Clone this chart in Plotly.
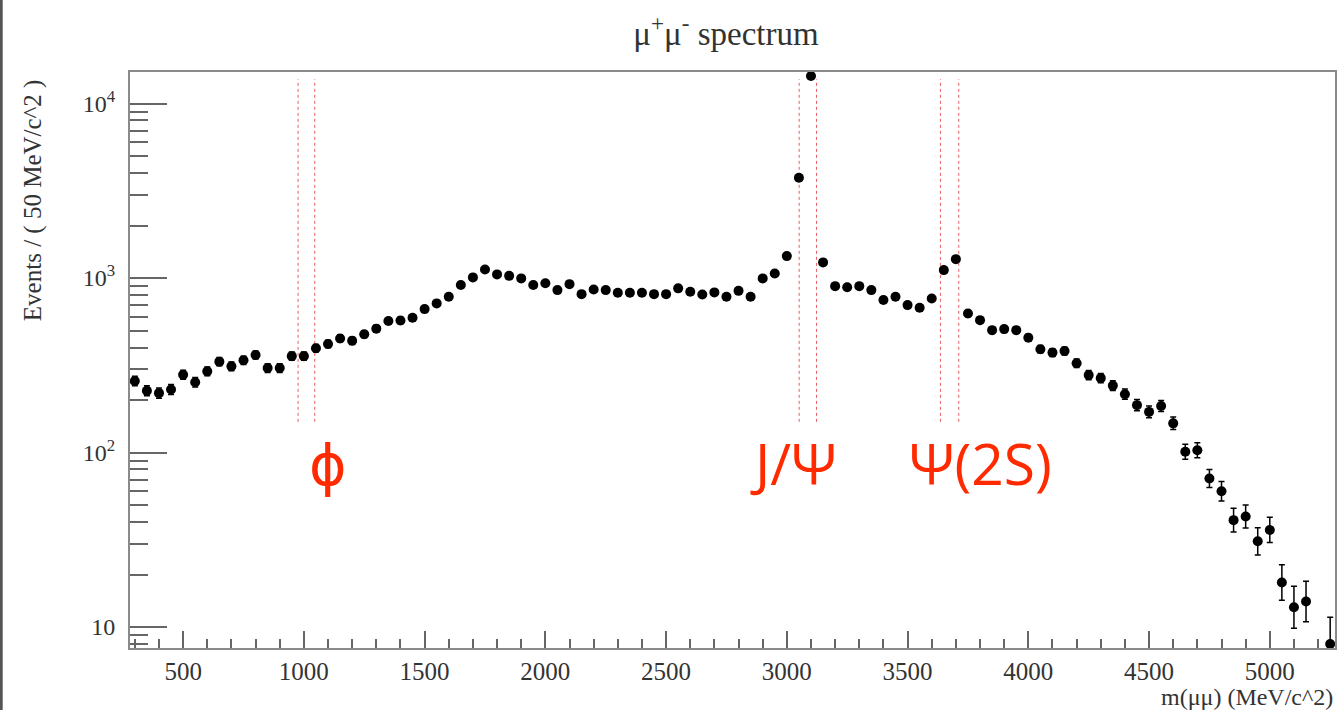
import math
import plotly.graph_objects as go

# ---- data (bin centres in MeV/c^2, 50 MeV bins) ----
mass = [300, 350, 400, 450, 500, 550, 600, 650, 700, 750,
        800, 850, 900, 950, 1000, 1050, 1100, 1150, 1200, 1250,
        1300, 1350, 1400, 1450, 1500, 1550, 1600, 1650, 1700, 1750,
        1800, 1850, 1900, 1950, 2000, 2050, 2100, 2150, 2200, 2250,
        2300, 2350, 2400, 2450, 2500, 2550, 2600, 2650, 2700, 2750,
        2800, 2850, 2900, 2950, 3000, 3050, 3100, 3150, 3200, 3250,
        3300, 3350, 3400, 3450, 3500, 3550, 3600, 3650, 3700, 3750,
        3800, 3850, 3900, 3950, 4000, 4050, 4100, 4150, 4200, 4250,
        4300, 4350, 4400, 4450, 4500, 4550, 4600, 4650, 4700, 4750,
        4800, 4850, 4900, 4950, 5000, 5050, 5100, 5150, 5200, 5250]

events = [257, 226, 219, 230, 279, 253, 292, 332, 312, 338,
          362, 305, 305, 357, 357, 396, 419, 451, 437, 476,
          513, 567, 571, 592, 664, 716, 781, 912, 1009, 1121,
          1050, 1030, 996, 912, 933, 853, 923, 809, 861, 853,
          824, 824, 824, 809, 809, 873, 835, 806, 828, 781,
          845, 781, 996, 1063, 1336, 3760, 14380, 1230, 899, 885,
          899, 853, 748, 781, 700, 676, 764, 1111, 1284, 627,
          574, 503, 510, 503, 455, 391, 374, 382, 325, 278,
          267, 242, 216, 187, 171, 185, 147, 101, 103, 71,
          60, 41, 43, 31, 36, 18, 13, 14, None, 8]

# resonance windows (MeV/c^2)
window_lo = [976, 3051, 3636]
window_hi = [1045, 3123, 3712]
window_ymin = 150
window_ymax = 13800

res_labels = ["ϕ", "J/Ψ", "Ψ(2S)"]
res_label_x = [1099, 3029, 3802]

x_ticks = [500, 1000, 1500, 2000, 2500, 3000, 3500, 4000, 4500, 5000]
y_ticks = [10, 100, 1000, 10000]
y_ticktext = ["10", "10<sup>2</sup>", "10<sup>3</sup>", "10<sup>4</sup>"]

# Poisson-like asymmetric errors
err_up = [None if n is None else math.sqrt(n + 0.25) + 0.5 for n in events]
err_dn = [None if n is None else math.sqrt(n + 0.25) - 0.5 for n in events]

SERIF = "Liberation Serif, Times New Roman, serif"
RED = "#ff2a00"
FRAME = "#8a8a8a"

fig = go.Figure()

# dotted window lines
for lo, hi in zip(window_lo, window_hi):
    for xv in (lo, hi):
        fig.add_trace(go.Scatter(
            x=[xv, xv], y=[window_ymin, window_ymax], mode="lines",
            line=dict(color="#e06060", width=1, dash="dot"),
            hoverinfo="skip", showlegend=False))

fig.add_trace(go.Scatter(
    x=mass, y=events, mode="markers",
    marker=dict(color="black", size=10, symbol="circle"),
    error_y=dict(type="data", symmetric=False, array=err_up, arrayminus=err_dn,
                 color="black", thickness=1.5, width=3),
    showlegend=False))

minor_y = []
for k in range(0, 5):
    for m in range(2, 10):
        minor_y.append(m * 10 ** k)

fig.update_layout(
    width=1339, height=710,
    margin=dict(l=130, r=2, t=72, b=62),
    paper_bgcolor="white", plot_bgcolor="white",
    showlegend=False,
    font=dict(family=SERIF, color="#333333"),
    title=dict(text="μ<sup>+</sup>μ<sup>-</sup> spectrum",
               x=(727 - 130) / 1207, xref="paper", xanchor="center",
               y=1 - 33 / 710, yref="container", yanchor="middle",
               font=dict(family=SERIF, size=33, color="#333333")),
    xaxis=dict(
        range=[280, 5270], showgrid=False, zeroline=False,
        showline=True, linecolor=FRAME, linewidth=2, mirror=True,
        tickvals=x_ticks, ticks="inside", ticklen=17, tickwidth=1.5,
        tickcolor="#666666",
        tickfont=dict(family=SERIF, size=25, color="#333333"),
        minor=dict(dtick=100, tick0=0, ticks="inside", ticklen=9,
                   tickwidth=1.5, tickcolor="#666666", showgrid=False),
    ),
    yaxis=dict(
        type="log", range=[0.880, 4.181], showgrid=False, zeroline=False,
        showline=True, linecolor=FRAME, linewidth=2, mirror=True,
        tickvals=y_ticks, ticktext=y_ticktext,
        ticks="inside", ticklen=37, tickwidth=1.5, tickcolor="#666666",
        ticklabelstandoff=8,
        tickfont=dict(family=SERIF, size=24, color="#333333"),
        minor=dict(tickvals=minor_y, ticks="inside", ticklen=18,
                   tickwidth=1.5, tickcolor="#666666", showgrid=False),
    ),
)

# axis titles
fig.add_annotation(text="Events / ( 50 MeV/c^2 )", textangle=-90,
                   xref="paper", yref="paper",
                   x=(33 - 130) / 1207, y=1 - (200 - 72) / 576,
                   xanchor="center", yanchor="middle", showarrow=False,
                   font=dict(family=SERIF, size=25, color="#333333"))
fig.add_annotation(text="m(μμ) (MeV/c^2)",
                   xref="paper", yref="paper",
                   x=(1337 - 130) / 1207, y=1 - (697 - 72) / 576,
                   xanchor="right", yanchor="middle", showarrow=False,
                   font=dict(family=SERIF, size=24, color="#333333"))

# resonance labels
for txt, xv in zip(res_labels, res_label_x):
    fig.add_annotation(text=txt, xref="x", yref="paper",
                       x=xv, y=1 - (463 - 72) / 576,
                       xanchor="center", yanchor="middle", showarrow=False,
                       font=dict(family="Open Sans, DejaVu Sans, sans-serif",
                                 size=57, color=RED))

# window border on the far left of the screenshot
fig.add_shape(type="line", xref="paper", yref="paper",
              x0=(1 - 130) / 1207, x1=(1 - 130) / 1207,
              y0=-62 / 576, y1=1 + 72 / 576,
              line=dict(color="#555555", width=3))

fig.write_html("out.html")
